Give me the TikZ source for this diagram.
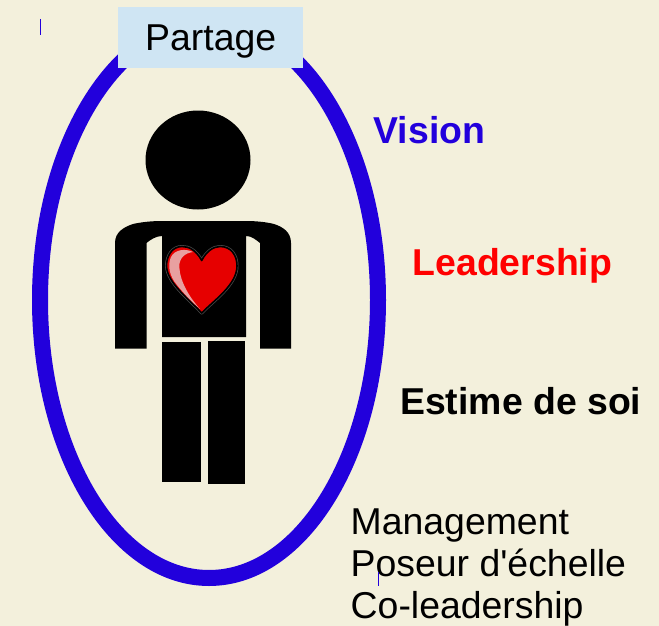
\documentclass[tikz,border=0pt]{standalone}
\usepackage{fontspec}
\setmainfont{Liberation Sans}
\newfontfamily\plainlat{Liberation Sans}
\definecolor{bgc}{HTML}{F3F0DC}
\definecolor{ringc}{HTML}{2200DC}
\definecolor{boxc}{HTML}{CFE5F3}
\definecolor{heartc}{HTML}{E60000}
\definecolor{shinec}{HTML}{E8A0A0}
\tikzset{
  lab/.style={inner sep=0pt,anchor=base west,font=\fontsize{37.4}{42}\selectfont\plainlat},
  labb/.style={lab,font=\fontsize{37.4}{42}\selectfont\bfseries},
  tick/.style={draw=ringc,line width=0.8pt}
}
\def\heartpath{(201.7,260.5) .. controls (196,250) and (189,246.5) .. (182,246.5)
  .. controls (172,246.5) and (166.5,256) .. (166.5,266)
  .. controls (167,283) and (190,300) .. (201.7,313)
  .. controls (213,301) and (237,285) .. (237,266)
  .. controls (237,255) and (231,246.5) .. (220,246.5)
  .. controls (213,246.5) and (206,252) .. (201.7,260.5) -- cycle}
\begin{document}
\begin{tikzpicture}[x=1pt,y=-1pt]
\useasboundingbox (0,0) rectangle (659,626);
\fill[bgc] (0,0) rectangle (659,626);
% ring
\draw[ringc,line width=16pt] (209,300) ellipse [x radius=169,y radius=278];
% box
\node[fill=boxc,minimum width=185.5pt,minimum height=60.5pt,inner sep=0pt,anchor=north west] (partage) at (117.5,7) {};
\node[lab] (partagetxt) at (145,50.5) {Partage};
% figure
\fill[black] (198,160) ellipse [x radius=52.5,y radius=49.5];
\fill[black] (115,348.5) -- (115,243) .. controls (115,232) and (124,227) .. (133,224) .. controls (142,222) and (152,221) .. (162,221)
  -- (246,221) .. controls (256,221) and (266,222) .. (274,224) .. controls (283,227) and (291,232) .. (291,243)
  -- (291,348.5) -- (260,348.5) -- (260,243) .. controls (256,240) and (252,236) .. (246,236)
  -- (246,337) -- (162,337) -- (162,236) .. controls (156,236) and (150,240) .. (146.5,243) -- (146.5,348.5) -- cycle;
\fill[black] (162,342) rectangle (201,482);
\fill[black] (208,341) rectangle (245,484);
% heart
\draw[black!70!white,line width=3pt,line join=round] \heartpath;
\filldraw[fill=heartc,draw=black,line width=1.6pt,line join=round] \heartpath;
\fill[shinec] (193,252) .. controls (186,248.5) and (175,249) .. (171,257)
  .. controls (167,266) and (170,277) .. (177,285)
  .. controls (185,295) and (192,302) .. (200,309)
  .. controls (190,298) and (180,282) .. (179.3,267)
  .. controls (179,258) and (185,253) .. (193,252) -- cycle;
% labels
\node[labb,text=ringc] (vision) at (373.5,143) {Vision};
\node[labb,text=red] (leader) at (412.5,275) {Leadership};
\node[labb,text=black] (estime) at (400,414) {Estime de soi};
\node[lab] (m1) at (350.5,534.5) {Management};
\node[lab] (m2) at (350.5,576.5) {Poseur d'échelle};
\node[lab] (m3) at (350.5,618.5) {Co-leadership};
% tick marks
\draw[tick] (40.5,19) -- (40.5,35);
\draw[tick] (378.5,572) -- (378.5,586);
\end{tikzpicture}
\end{document}
